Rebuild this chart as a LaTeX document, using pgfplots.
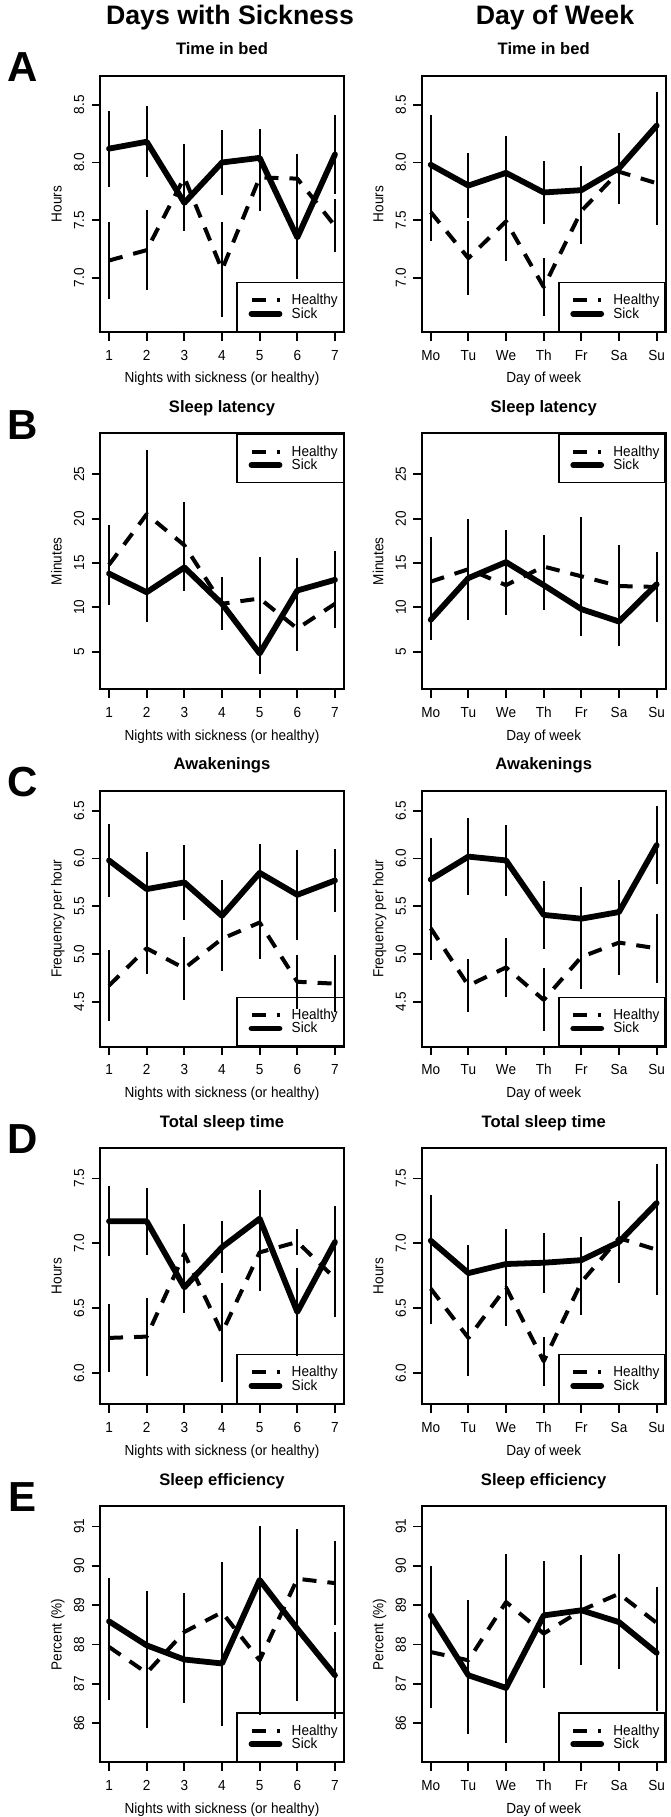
\documentclass[border=0pt]{standalone}
\usepackage{fontspec}
\setmainfont{Liberation Sans}
\newfontfamily\axfont{Liberation Sans}[FakeStretch=0.93]
\usepackage{pgfplots}
\pgfplotsset{compat=1.18}
\newcommand\axfs{\axfont\fontsize{14.6}{15}\selectfont}
\pgfplotsset{
  panel/.style={
    scale only axis, width=244pt, height=256pt, anchor=south west,
    axis line style={line width=1.8pt},
    tick style={line width=1.8pt, black},
    tick align=outside, major tick length=8.5pt,
    tick pos=left,
    xmin=0.76, xmax=7.24, xtick={1,2,3,4,5,6,7},
    minor tick num=0,
    /pgf/number format/assume math mode=true,
    xticklabel style={font=\axfs, anchor=base},
    yticklabel style={font=\axfs, rotate=90, anchor=base},
    xticklabel shift=19.7pt, yticklabel shift=7.3pt,
    xlabel style={font=\axfs, at={(axis description cs:0.5,-0.1992)}, anchor=base},
    ylabel style={font=\axfs, at={(axis description cs:-0.157,0.5)}, anchor=base},
    title style={font=\bfseries\fontsize{16.6}{17}\selectfont, at={(axis description cs:0.5,1.0586)}, anchor=base, yshift=0pt},
    legend style={draw=black, line width=1.5pt, fill=none, at={(1,0)}, anchor=south east,
      font=\axfs, inner xsep=5.5pt, inner ysep=11.5pt, row sep=1.4pt, nodes={inner sep=0pt},
      /tikz/every odd column/.append style={column sep=9.3pt}},
    legend cell align=left,
    legend image code/.code={\path (0pt,0pt); \draw[##1] (6pt,0pt) -- (34pt,0pt);},
  },
  eb/.style={/pgfplots/error bars/y dir=both, /pgfplots/error bars/y explicit,
    /pgfplots/error bars/error mark=none,
    /pgfplots/error bars/error bar style={solid, line width=2pt, line cap=butt}},
  healthy/.style={black, line width=4pt, dash pattern=on 14pt off 11pt, line cap=butt, line join=round, mark=none, eb},
  sick/.style={black, line width=5.8pt, solid, line cap=round, line join=round, mark=none, eb},
  dow/.style={xticklabels={Mo,Tu,We,Th,Fr,Sa,Su}, xlabel={Day of week}},
  nts/.style={xticklabels={1,2,3,4,5,6,7}, xlabel={Nights with sickness (or healthy)}},
  rowA/.style={ymin=6.53, ymax=8.75, ytick={7,7.5,8,8.5}, yticklabels={7.0,7.5,8.0,8.5}, ylabel={Hours}, title={Time in bed}},
  rowB/.style={ymin=0.76, ymax=29.62, ytick={5,10,15,20,25}, yticklabels={5,10,15,20,25}, ylabel={Minutes}, title={Sleep latency},
    legend style={at={(1,1)}, anchor=north east}},
  rowC/.style={ymin=4.03, ymax=6.71, ytick={4.5,5,5.5,6,6.5}, yticklabels={4.5,5.0,5.5,6.0,6.5}, ylabel={Frequency per hour}, title={Awakenings}},
  rowD/.style={ymin=5.76, ymax=7.735, ytick={6,6.5,7,7.5}, yticklabels={6.0,6.5,7.0,7.5}, ylabel={Hours}, title={Total sleep time}},
  rowE/.style={ymin=85.01, ymax=91.51, ytick={86,87,88,89,90,91}, yticklabels={86,87,88,89,90,91}, ylabel={Percent (\%)}, title={Sleep efficiency}},
}
\begin{document}
\begin{tikzpicture}
\path[use as bounding box] (0pt,0pt) rectangle (670pt,-1817pt);
\node[font=\bfseries\fontsize{26.7}{28}\selectfont, anchor=base] at (230pt,-24.3pt) {Days with Sickness};
\node[font=\bfseries\fontsize{26.7}{28}\selectfont, anchor=base] at (555pt,-24.3pt) {Day of Week};
\foreach \L/\y in {A/81.7, B/439.1, C/796.5, D/1153.9, E/1511.3}{
  \node[font=\bfseries\fontsize{42}{44}\selectfont, anchor=base] at (22.5pt,-\y pt) {\L};
}
% ---------- Row A ----------
\begin{axis}[panel, nts, rowA, at={(100pt,-332pt)}]
\addplot[healthy] table[x=x, y=y, y error=e, row sep=\\] {x y e\\ 1 7.15 0.33\\ 2 7.24 0.35\\ 3 7.87 0.29\\ 4 7.07 0.41\\ 5 7.87 0.29\\ 6 7.86 0.21\\ 7 7.45 0.23\\};
\addlegendentry{Healthy}
\addplot[sick] table[x=x, y=y, y error=e, row sep=\\] {x y e\\ 1 8.12 0.33\\ 2 8.18 0.31\\ 3 7.65 0.24\\ 4 8.00 0.28\\ 5 8.04 0.25\\ 6 7.35 0.36\\ 7 8.07 0.34\\};
\addlegendentry{Sick}
\end{axis}
\begin{axis}[panel, dow, rowA, at={(421.7pt,-332pt)}]
\addplot[healthy] table[x=x, y=y, y error=e, row sep=\\] {x y e\\ 1 7.57 0.25\\ 2 7.17 0.32\\ 3 7.49 0.34\\ 4 6.92 0.25\\ 5 7.58 0.29\\ 6 7.92 0.28\\ 7 7.82 0.36\\};
\addlegendentry{Healthy}
\addplot[sick] table[x=x, y=y, y error=e, row sep=\\] {x y e\\ 1 7.98 0.43\\ 2 7.80 0.28\\ 3 7.91 0.32\\ 4 7.74 0.27\\ 5 7.76 0.21\\ 6 7.95 0.31\\ 7 8.32 0.29\\};
\addlegendentry{Sick}
\end{axis}
% ---------- Row B ----------
\begin{axis}[panel, nts, rowB, at={(100pt,-689.3pt)}]
\addplot[healthy] table[x=x, y=y, y error=e, row sep=\\] {x y e\\ 1 14.8 4.5\\ 2 20.5 7.2\\ 3 17.0 4.9\\ 4 10.4 3.0\\ 5 11.0 4.7\\ 6 7.6 2.5\\ 7 10.4 2.7\\};
\addlegendentry{Healthy}
\addplot[sick] table[x=x, y=y, y error=e, row sep=\\] {x y e\\ 1 13.8 3.0\\ 2 11.7 3.3\\ 3 14.5 2.7\\ 4 10.4 3.0\\ 5 4.8 2.3\\ 6 11.9 3.7\\ 7 13.1 3.3\\};
\addlegendentry{Sick}
\end{axis}
\begin{axis}[panel, dow, rowB, at={(421.7pt,-689.3pt)}]
\addplot[healthy] table[x=x, y=y, y error=e, row sep=\\] {x y e\\ 1 12.9 5.0\\ 2 14.3 5.7\\ 3 12.5 3.4\\ 4 14.6 3.6\\ 5 13.5 6.7\\ 6 12.4 4.6\\ 7 12.3 3.9\\};
\addlegendentry{Healthy}
\addplot[sick] table[x=x, y=y, y error=e, row sep=\\] {x y e\\ 1 8.6 2.3\\ 2 13.3 3.5\\ 3 15.1 3.6\\ 4 12.5 2.8\\ 5 9.8 2.5\\ 6 8.4 2.8\\ 7 12.6 2.6\\};
\addlegendentry{Sick}
\end{axis}
% ---------- Row C ----------
\begin{axis}[panel, nts, rowC, at={(100pt,-1046.7pt)}]
\addplot[healthy] table[x=x, y=y, y error=e, row sep=\\] {x y e\\ 1 4.67 0.37\\ 2 5.06 0.27\\ 3 4.85 0.33\\ 4 5.16 0.34\\ 5 5.33 0.38\\ 6 4.71 0.28\\ 7 4.69 0.30\\};
\addlegendentry{Healthy}
\addplot[sick] table[x=x, y=y, y error=e, row sep=\\] {x y e\\ 1 5.98 0.38\\ 2 5.68 0.39\\ 3 5.75 0.39\\ 4 5.40 0.38\\ 5 5.85 0.30\\ 6 5.62 0.47\\ 7 5.77 0.33\\};
\addlegendentry{Sick}
\end{axis}
\begin{axis}[panel, dow, rowC, at={(421.7pt,-1046.7pt)}]
\addplot[healthy] table[x=x, y=y, y error=e, row sep=\\] {x y e\\ 1 5.27 0.33\\ 2 4.67 0.28\\ 3 4.86 0.31\\ 4 4.52 0.33\\ 5 4.97 0.34\\ 6 5.12 0.34\\ 7 5.06 0.36\\};
\addlegendentry{Healthy}
\addplot[sick] table[x=x, y=y, y error=e, row sep=\\] {x y e\\ 1 5.78 0.44\\ 2 6.02 0.40\\ 3 5.98 0.37\\ 4 5.41 0.36\\ 5 5.37 0.33\\ 6 5.44 0.34\\ 7 6.14 0.41\\};
\addlegendentry{Sick}
\end{axis}
% ---------- Row D ----------
\begin{axis}[panel, nts, rowD, at={(100pt,-1404pt)}]
\addplot[healthy] table[x=x, y=y, y error=e, row sep=\\] {x y e\\ 1 6.27 0.26\\ 2 6.28 0.30\\ 3 6.92 0.23\\ 4 6.31 0.38\\ 5 6.93 0.30\\ 6 7.01 0.10\\ 7 6.73 0.30\\};
\addlegendentry{Healthy}
\addplot[sick] table[x=x, y=y, y error=e, row sep=\\] {x y e\\ 1 7.17 0.27\\ 2 7.17 0.26\\ 3 6.66 0.20\\ 4 6.97 0.20\\ 5 7.19 0.22\\ 6 6.47 0.34\\ 7 7.01 0.28\\};
\addlegendentry{Sick}
\end{axis}
\begin{axis}[panel, dow, rowD, at={(421.7pt,-1404pt)}]
\addplot[healthy] table[x=x, y=y, y error=e, row sep=\\] {x y e\\ 1 6.65 0.27\\ 2 6.27 0.29\\ 3 6.66 0.30\\ 4 6.09 0.19\\ 5 6.70 0.25\\ 6 7.04 0.26\\ 7 6.95 0.35\\};
\addlegendentry{Healthy}
\addplot[sick] table[x=x, y=y, y error=e, row sep=\\] {x y e\\ 1 7.02 0.35\\ 2 6.77 0.22\\ 3 6.84 0.27\\ 4 6.85 0.23\\ 5 6.87 0.18\\ 6 7.01 0.32\\ 7 7.31 0.30\\};
\addlegendentry{Sick}
\end{axis}
% ---------- Row E ----------
\begin{axis}[panel, nts, rowE, at={(100pt,-1762.3pt)}]
\addplot[healthy] table[x=x, y=y, y error=e, row sep=\\] {x y e\\ 1 87.94 1.35\\ 2 87.28 1.40\\ 3 88.32 1.00\\ 4 88.82 1.27\\ 5 87.60 1.40\\ 6 89.67 1.26\\ 7 89.56 1.06\\};
\addlegendentry{Healthy}
\addplot[sick] table[x=x, y=y, y error=e, row sep=\\] {x y e\\ 1 88.59 1.10\\ 2 87.98 1.37\\ 3 87.62 1.10\\ 4 87.52 1.60\\ 5 89.64 1.37\\ 6 88.40 1.83\\ 7 87.22 1.10\\};
\addlegendentry{Sick}
\end{axis}
\begin{axis}[panel, dow, rowE, at={(421.7pt,-1762.3pt)}]
\addplot[healthy] table[x=x, y=y, y error=e, row sep=\\] {x y e\\ 1 87.81 1.42\\ 2 87.60 1.52\\ 3 89.08 1.22\\ 4 88.28 1.39\\ 5 88.87 1.35\\ 6 89.29 1.00\\ 7 88.55 0.90\\};
\addlegendentry{Healthy}
\addplot[sick] table[x=x, y=y, y error=e, row sep=\\] {x y e\\ 1 88.74 1.26\\ 2 87.22 1.49\\ 3 86.90 1.39\\ 4 88.74 1.39\\ 5 88.87 1.40\\ 6 88.57 1.20\\ 7 87.79 1.48\\};
\addlegendentry{Sick}
\end{axis}
\end{tikzpicture}
\end{document}
